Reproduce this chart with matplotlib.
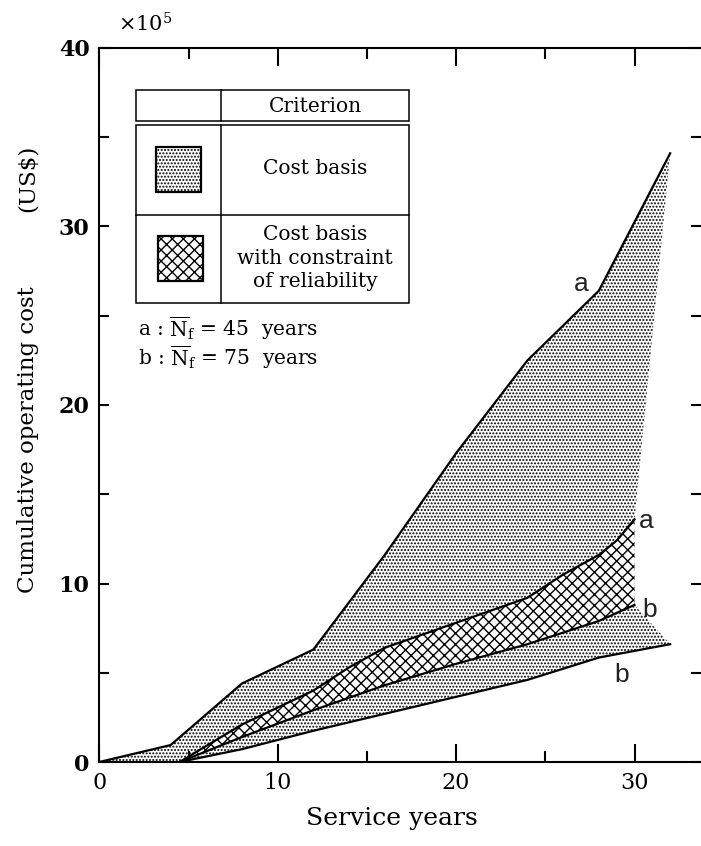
import matplotlib
matplotlib.use('Agg')
import matplotlib.pyplot as plt
from matplotlib.patches import Polygon, Rectangle
from matplotlib.lines import Line2D

plt.rcParams['font.family'] = 'DejaVu Serif'
plt.rcParams['mathtext.fontset'] = 'dejavuserif'
plt.rcParams['hatch.linewidth'] = 1.0

# Cost basis, a (upper bound of dotted area)
yrs_cost_a = [0, 4, 8, 12, 16, 20, 24, 28, 32]
cost_a = [0, 0.95, 4.4, 6.3, 11.6, 17.3, 22.5, 26.4, 34.1]
# Cost basis, b (lower bound of dotted area)
yrs_cost_b = [4.5, 8, 12, 16, 20, 24, 28, 32]
cost_b = [0, 0.72, 1.75, 2.7, 3.65, 4.6, 5.85, 6.6]
# Cost basis with constraint of reliability, a / b
yrs_rel_a = [4.5, 8, 12, 14, 16, 20, 24, 26, 28, 29, 30]
rel_a = [0, 2.1, 4.0, 5.3, 6.4, 7.8, 9.2, 10.5, 11.6, 12.4, 13.6]
yrs_rel_b = [4.5, 8, 12, 16, 20, 24, 28, 30]
rel_b = [0, 1.4, 2.9, 4.3, 5.5, 6.6, 7.9, 8.8]

DOTS = '.....'
CROSS = 'xxx'

W, H = 701, 846
fig = plt.figure(figsize=(W / 100, H / 100), dpi=100)
ax = fig.add_axes([99.3 / W, 1 - 762 / H, (W - 99.3) / W, 714 / H])


def fx(px):
    return px / W


def fy(py):
    return 1 - py / H


def hatch_lw(patch, lw):
    if hasattr(patch, 'set_hatch_linewidth'):
        patch.set_hatch_linewidth(lw)
    return patch


# dotted region (cost basis)
dot_pts = list(zip(yrs_cost_a, cost_a))
dot_pts += [(yrs_rel_a[-1], rel_a[-1]), (yrs_rel_b[-1], rel_b[-1])]
dot_pts += list(zip(yrs_cost_b, cost_b))[::-1]
ax.add_patch(hatch_lw(Polygon(dot_pts, closed=True, facecolor='white', edgecolor='black',
                              lw=0, hatch=DOTS, zorder=1), 0.95))

# cross-hatched region (with reliability constraint)
rel_pts = list(zip(yrs_rel_a, rel_a)) + list(zip(yrs_rel_b, rel_b))[::-1]
ax.add_patch(hatch_lw(Polygon(rel_pts, closed=True, facecolor='white', edgecolor='black',
                              lw=0, hatch=CROSS, zorder=2), 1.0))

for xs, ys in [(yrs_cost_a, cost_a), (yrs_cost_b, cost_b),
               (yrs_rel_a, rel_a), (yrs_rel_b, rel_b)]:
    ax.plot(xs, ys, color='black', lw=1.6, zorder=3)

# curve labels
lab_kw = dict(family='Liberation Sans', fontsize=19, color='#222222', zorder=4)
ax.text(yrs_cost_a[-2] - 0.55, cost_a[-2] - 0.3, 'a', ha='right', va='bottom', **lab_kw)
ax.text(yrs_rel_a[-1] + 0.25, rel_a[-1] - 0.1, 'a', ha='left', va='center', **lab_kw)
ax.text(yrs_rel_b[-1] + 0.45, rel_b[-1] - 0.3, 'b', ha='left', va='center', **lab_kw)
ax.text(yrs_cost_b[-2] + 1.3, cost_b[-2] - 0.3, 'b', ha='center', va='top', **lab_kw)

ax.set_xlim(0, (W - 99.3) / 17.84)
ax.set_ylim(0, 40)
ax.set_xticks([0, 10, 20, 30])
ax.set_xticks([5, 15, 25], minor=True)
ax.set_yticks([0, 10, 20, 30, 40])
ax.set_yticks([5, 15, 25, 35], minor=True)
ax.tick_params(axis='x', which='major', direction='in', length=13, width=1.5,
               top=True, bottom=True, pad=7, labelsize=16)
ax.tick_params(axis='x', which='minor', direction='in', length=8, width=1.5,
               top=True, bottom=True)
ax.tick_params(axis='y', which='both', direction='in', length=7, width=1.5,
               left=True, right=True, pad=7, labelsize=16)
for lbl in ax.get_yticklabels():
    lbl.set_fontweight('bold')
for s in ax.spines.values():
    s.set_linewidth(1.5)
ax.spines['right'].set_visible(False)

fig.text(fx(392), fy(818), 'Service years', ha='center', va='center', fontsize=18)
fig.text(fx(28), fy(440), 'Cumulative operating cost', rotation=90,
         ha='center', va='center', fontsize=16.5)
fig.text(fx(28), fy(178), '(US$)', rotation=90, ha='center', va='center', fontsize=16.5)
fig.text(fx(145), fy(24), r'$\times10^5$', ha='center', va='center', fontsize=15)

# legend table
lw_t = 1.1
for (x0, y0, x1, y1) in [(136, 90, 409, 121), (136, 125, 409, 303)]:
    fig.add_artist(Rectangle((fx(x0), fy(y1)), fx(x1) - fx(x0), fy(y0) - fy(y1),
                             transform=fig.transFigure, facecolor='white',
                             edgecolor='black', lw=lw_t, zorder=5))
fig.add_artist(Line2D([fx(221), fx(221)], [fy(90), fy(121)], transform=fig.transFigure,
                      color='black', lw=lw_t, zorder=6))
fig.add_artist(Line2D([fx(221), fx(221)], [fy(125), fy(303)], transform=fig.transFigure,
                      color='black', lw=lw_t, zorder=6))
fig.add_artist(Line2D([fx(136), fx(409)], [fy(215), fy(215)], transform=fig.transFigure,
                      color='black', lw=lw_t, zorder=6))
fig.add_artist(hatch_lw(Rectangle((fx(156), fy(192)), fx(45), fy(147) - fy(192),
                                  transform=fig.transFigure, facecolor='white',
                                  edgecolor='black', lw=1.6, hatch=DOTS, zorder=6), 0.95))
fig.add_artist(hatch_lw(Rectangle((fx(158), fy(281)), fx(45), fy(236) - fy(281),
                                  transform=fig.transFigure, facecolor='white',
                                  edgecolor='black', lw=1.6, hatch=CROSS, zorder=6), 1.0))
fig.text(fx(315), fy(106), 'Criterion', ha='center', va='center', fontsize=14.5, zorder=7)
fig.text(fx(315), fy(169), 'Cost basis', ha='center', va='center', fontsize=14.5, zorder=7)
fig.text(fx(315), fy(258), 'Cost basis\nwith constraint\nof reliability', ha='center',
         va='center', multialignment='center', linespacing=1.3, fontsize=14.5, zorder=7)

fig.text(fx(138), fy(328), r'a : $\overline{\mathrm{N}}_\mathrm{f}$ = 45  years',
         ha='left', va='center', fontsize=14.5)
fig.text(fx(138), fy(357), r'b : $\overline{\mathrm{N}}_\mathrm{f}$ = 75  years',
         ha='left', va='center', fontsize=14.5)

fig.savefig('out.png', dpi=100)
